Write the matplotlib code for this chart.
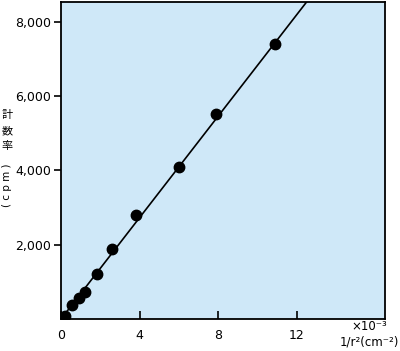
import matplotlib
matplotlib.use('Agg')
import matplotlib.pyplot as plt

# measured points: 1/r^2 (x10^-3 cm^-2) vs count rate (cpm)
inv_r2 = [0.2, 0.55, 0.9, 1.2, 1.85, 2.6, 3.8, 6.0, 7.9, 10.9]
cpm = [90, 380, 570, 730, 1210, 1880, 2800, 4090, 5520, 7400]

# fitted straight line
fit_x = [0, 13]
fit_y = [0, 8870]

xticks = [0, 4, 8, 12]
yticks = [2000, 4000, 6000, 8000]
ytick_labels = ['2,000', '4,000', '6,000', '8,000']

fig = plt.figure(figsize=(4.0, 3.51), dpi=100)
ax = fig.add_axes([0.1525, 0.091, 0.81, 0.903])
ax.set_facecolor('#cfe8f8')

ax.plot(fit_x, fit_y, color='black', lw=1.2, zorder=2)
ax.plot(inv_r2, cpm, 'o', color='black', ms=7.5, zorder=3)

ax.set_xlim(0, 16.5)
ax.set_ylim(0, 8530)
ax.set_xticks(xticks)
ax.set_xticklabels([str(t) for t in xticks])
ax.set_yticks(yticks)
ax.set_yticklabels(ytick_labels)
ax.tick_params(axis='x', direction='in', length=6, width=1.2, labelsize=9, pad=7)
ax.tick_params(axis='y', direction='out', length=5, width=1.2, labelsize=9, pad=2)
for s in ax.spines.values():
    s.set_linewidth(1.3)

fig.text(0.968, 1 - 327 / 351, '×10⁻³', ha='right', va='center', fontsize=8.5)
fig.text(0.997, 1 - 342 / 351, '1/r²(cm⁻²)', ha='right', va='center', fontsize=8.5)

jp = ['Noto Sans CJK JP', 'DejaVu Sans']
for ch, y in zip('計数率', [115, 131, 146]):
    fig.text(0.018, 1 - y / 351, ch, ha='center', va='center', fontsize=8, family=jp)
fig.text(0.018, 1 - 185 / 351, '( c p m )', rotation=90, ha='center', va='center', fontsize=7.5)

fig.savefig('out.png', dpi=100)
